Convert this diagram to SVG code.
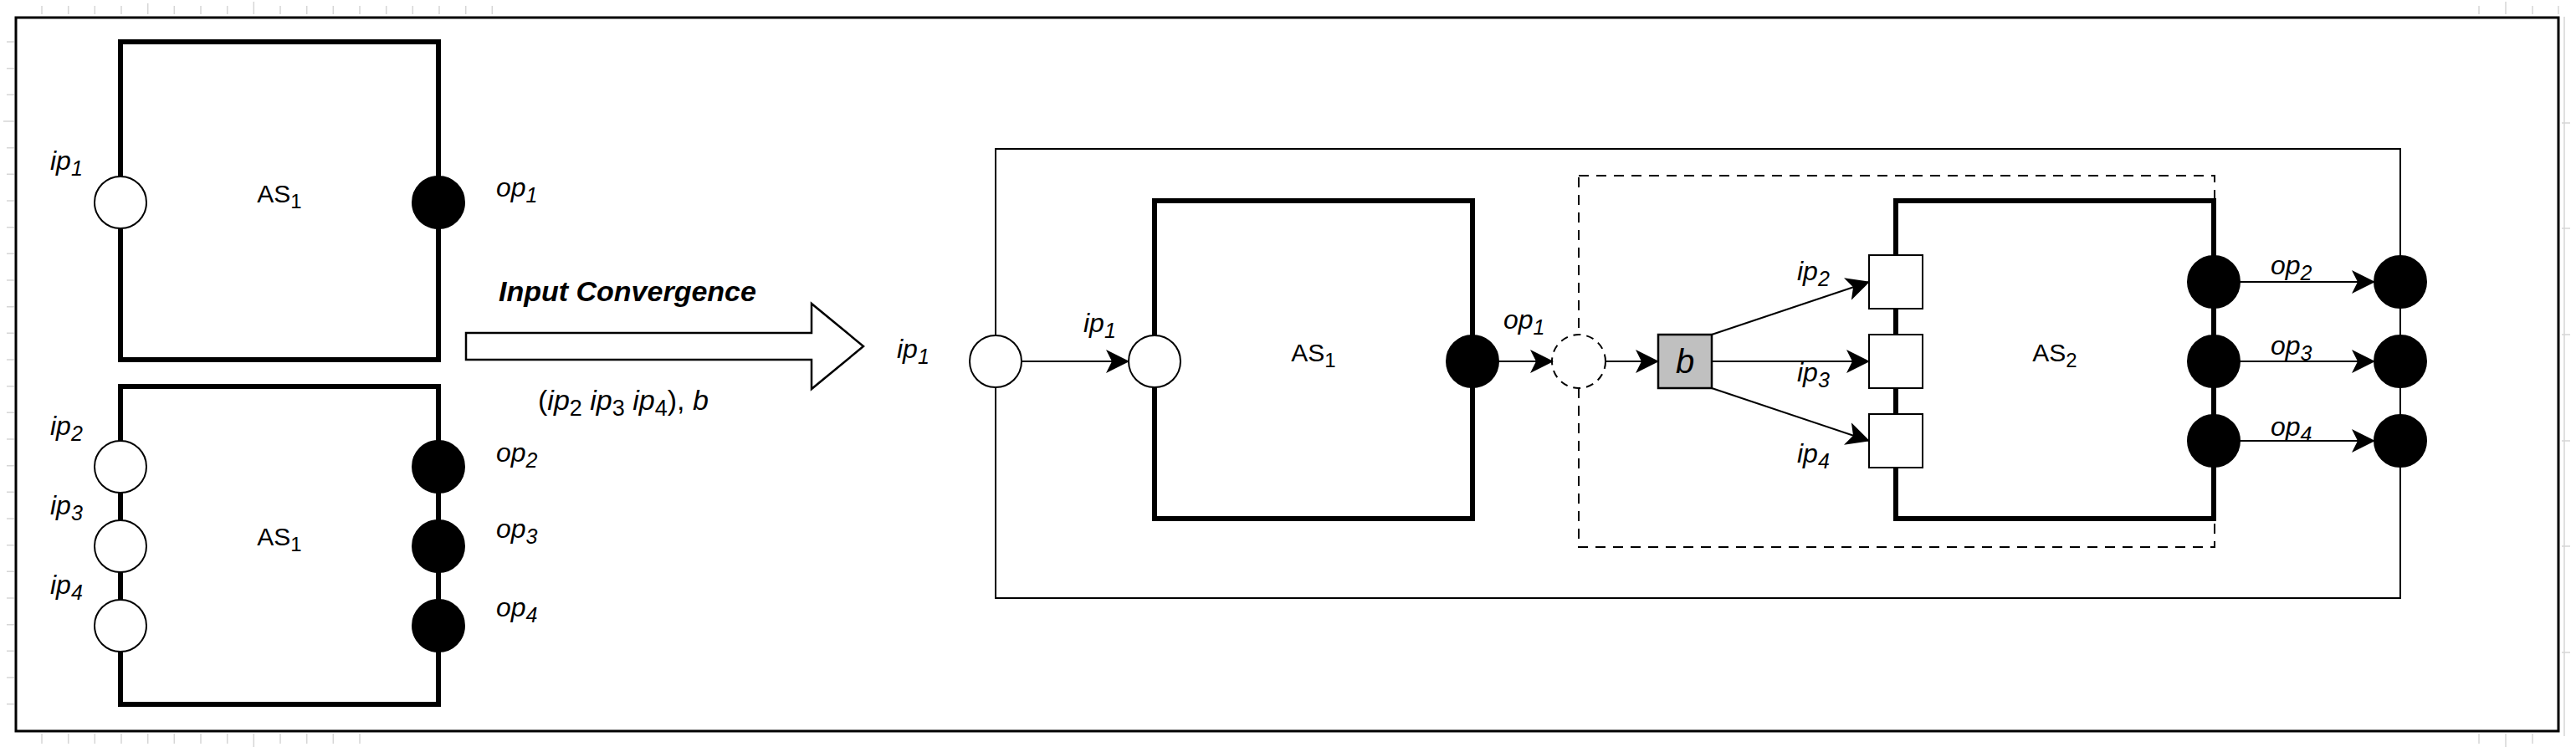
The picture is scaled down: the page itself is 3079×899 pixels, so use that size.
<svg xmlns="http://www.w3.org/2000/svg" width="3079" height="899" viewBox="0 0 3079 899">
<defs>
<style>
.lbl{font-family:"Liberation Sans",Arial,Helvetica,sans-serif;font-size:32px;font-style:italic;fill:#000}
.as{font-family:"Liberation Sans",Arial,Helvetica,sans-serif;font-size:30px;fill:#000}
.box{fill:#fff;stroke:#000;stroke-width:6}
.pin{fill:#fff;stroke:#000;stroke-width:2}
.pout{fill:#000;stroke:#000;stroke-width:2}
.thin{fill:none;stroke:#000;stroke-width:2}
.con{fill:none;stroke:#000;stroke-width:2;marker-end:url(#arr)}
.tick{stroke:#d6d6d6;stroke-width:1.5}
</style>
<marker id="arr" viewBox="0 0 28 28" refX="27" refY="14" markerWidth="28" markerHeight="28" markerUnits="userSpaceOnUse" orient="auto">
<path d="M0,0 L28,14 L0,28 L7,14 Z" fill="#000"/>
</marker>
</defs>
<rect x="0" y="0" width="3079" height="899" fill="#fff"/>
<g id="ruler">
<path class="tick" d="M50,7V17M81.7,7V17M113.3,7V17M145,7V17M176.7,4V17M208.3,7V17M240,7V17M271.7,7V17M303.3,2V17M335,7V17M366.7,7V17M398.3,7V17M430,7V17M461.7,7V17M493.3,7V17M525,7V17M556.7,7V17M588.3,7V17M2963,7V17M2995,2V17M3027,7V17M3058,7V17"/>
<path class="tick" d="M8,50H17M8,81.7H17M8,113.3H17M4,145H17M8,176.7H17M8,208.3H17M8,240H17M8,271.7H17M8,303.3H17M8,335H17M8,366.7H17M8,398.3H17M8,430H17M8,461.7H17M8,493.3H17M8,525H17M8,556.7H17M8,588.3H17M8,620H17M8,651.7H17M8,683.3H17M8,715H17M8,746.7H17M8,778.3H17M8,810H17M8,841.7H17"/>
<path class="tick" d="M50,877V889M81.7,877V889M113.3,877V889M145,877V889M176.7,877V889M208.3,877V889M240,877V889M271.7,877V889M303.3,877V893M335,877V889M366.7,877V889M398.3,877V889M430,877V889M2963,877V889M2995,877V893M3027,877V889"/>
<path class="tick" d="M3065,20V880M3062,147H3072M3062,273H3072M3062,400H3072M3062,527H3072M3062,653H3072M3062,780H3072"/>
</g>
<rect id="frame" x="19" y="21" width="3039" height="853" fill="#fff" stroke="#000" stroke-width="3"/>

<g id="as1-top">
<rect class="box" x="144" y="50" width="380" height="380"/>
<text class="as" x="334" y="242" text-anchor="middle">AS<tspan font-size="24" dy="7">1</tspan></text>
</g>
<g id="as1-top-ip1">
<circle class="pin" cx="144" cy="242" r="31"/>
<text class="lbl" x="60" y="203">ip<tspan font-size="25" dy="7">1</tspan></text>
</g>
<g id="as1-top-op1">
<circle class="pout" cx="524" cy="242" r="31"/>
<text class="lbl" x="593" y="235">op<tspan font-size="25" dy="7">1</tspan></text>
</g>

<g id="as1-bottom">
<rect class="box" x="144" y="462" width="380" height="380"/>
<text class="as" x="334" y="652" text-anchor="middle">AS<tspan font-size="24" dy="7">1</tspan></text>
</g>
<g id="as1-bottom-ip2">
<circle class="pin" cx="144" cy="558" r="31"/>
<text class="lbl" x="60" y="520">ip<tspan font-size="25" dy="7">2</tspan></text>
</g>
<g id="as1-bottom-ip3">
<circle class="pin" cx="144" cy="653" r="31"/>
<text class="lbl" x="60" y="615">ip<tspan font-size="25" dy="7">3</tspan></text>
</g>
<g id="as1-bottom-ip4">
<circle class="pin" cx="144" cy="748" r="31"/>
<text class="lbl" x="60" y="710">ip<tspan font-size="25" dy="7">4</tspan></text>
</g>
<g id="as1-bottom-op2">
<circle class="pout" cx="524" cy="558" r="31"/>
<text class="lbl" x="593" y="552">op<tspan font-size="25" dy="7">2</tspan></text>
</g>
<g id="as1-bottom-op3">
<circle class="pout" cx="524" cy="653" r="31"/>
<text class="lbl" x="593" y="643">op<tspan font-size="25" dy="7">3</tspan></text>
</g>
<g id="as1-bottom-op4">
<circle class="pout" cx="524" cy="748" r="31"/>
<text class="lbl" x="593" y="737">op<tspan font-size="25" dy="7">4</tspan></text>
</g>

<g id="convergence-arrow">
<polygon points="557,398 970,398 970,363 1032,414 970,465 970,430 557,430" fill="#fff" stroke="#000" stroke-width="2.5"/>
<text x="596" y="360" font-family="'Liberation Sans',Arial,Helvetica,sans-serif" font-size="34" font-weight="bold" font-style="italic">Input Convergence</text>
<text x="643" y="490" font-family="'Liberation Sans',Arial,Helvetica,sans-serif" font-size="34">(<tspan font-style="italic">ip</tspan><tspan font-size="27" dy="7">2</tspan><tspan dy="-7"> </tspan><tspan font-style="italic">ip</tspan><tspan font-size="27" dy="7">3</tspan><tspan dy="-7"> </tspan><tspan font-style="italic">ip</tspan><tspan font-size="27" dy="7">4</tspan><tspan dy="-7">), </tspan><tspan font-style="italic">b</tspan></text>
</g>

<g id="composite">
<rect class="thin" x="1190" y="178" width="1679" height="537" fill="#fff"/>
</g>
<g id="dashed-group">
<rect x="1887" y="210" width="760" height="444" fill="none" stroke="#000" stroke-width="2" stroke-dasharray="12 9"/>
</g>
<g id="composite-ip1">
<circle class="pin" cx="1190" cy="432" r="31"/>
<text class="lbl" x="1072" y="428">ip<tspan font-size="25" dy="7">1</tspan></text>
</g>

<g id="as1-inner">
<rect class="box" x="1380" y="240" width="380" height="380"/>
<text class="as" x="1570" y="432" text-anchor="middle">AS<tspan font-size="24" dy="7">1</tspan></text>
</g>
<g id="as1-inner-ip1">
<circle class="pin" cx="1380" cy="432" r="31"/>
</g>
<g id="as1-inner-op1">
<circle class="pout" cx="1760" cy="432" r="31"/>
</g>
<g id="dashed-port">
<circle cx="1887" cy="432" r="32" fill="#fff" stroke="#000" stroke-width="2" stroke-dasharray="9 7"/>
</g>
<g id="b-node">
<rect x="1982" y="400" width="64" height="64" fill="#c0c0c0" stroke="#000" stroke-width="2.5"/>
<text x="2014" y="446" text-anchor="middle" font-family="'Liberation Sans',Arial,Helvetica,sans-serif" font-size="40" font-style="italic">b</text>
</g>

<g id="as2">
<rect class="box" x="2266" y="240" width="380" height="380"/>
<text class="as" x="2456" y="432" text-anchor="middle">AS<tspan font-size="24" dy="7">2</tspan></text>
</g>
<g id="as2-ip2"><rect class="pin" x="2234" y="305" width="64" height="64"/></g>
<g id="as2-ip3"><rect class="pin" x="2234" y="400" width="64" height="64"/></g>
<g id="as2-ip4"><rect class="pin" x="2234" y="495" width="64" height="64"/></g>
<g id="as2-op2"><circle class="pout" cx="2646" cy="337" r="31"/></g>
<g id="as2-op3"><circle class="pout" cx="2646" cy="432" r="31"/></g>
<g id="as2-op4"><circle class="pout" cx="2646" cy="527" r="31"/></g>
<g id="composite-op2"><circle class="pout" cx="2869" cy="337" r="31"/></g>
<g id="composite-op3"><circle class="pout" cx="2869" cy="432" r="31"/></g>
<g id="composite-op4"><circle class="pout" cx="2869" cy="527" r="31"/></g>

<g id="connectors">
<line class="con" x1="1221" y1="432" x2="1349" y2="432"/>
<line class="con" x1="1791" y1="432" x2="1856" y2="432"/>
<line class="con" x1="1919" y1="432" x2="1982" y2="432"/>
<line class="con" x1="2046" y1="400" x2="2234" y2="337"/>
<line class="con" x1="2046" y1="432" x2="2234" y2="432"/>
<line class="con" x1="2046" y1="464" x2="2234" y2="527"/>
<line class="con" x1="2677" y1="337" x2="2838" y2="337"/>
<line class="con" x1="2677" y1="432" x2="2838" y2="432"/>
<line class="con" x1="2677" y1="527" x2="2838" y2="527"/>
<text class="lbl" x="1295" y="397">ip<tspan font-size="25" dy="7">1</tspan></text>
<text class="lbl" x="1797" y="393">op<tspan font-size="25" dy="7">1</tspan></text>
<text class="lbl" x="2148" y="335">ip<tspan font-size="25" dy="7">2</tspan></text>
<text class="lbl" x="2148" y="456">ip<tspan font-size="25" dy="7">3</tspan></text>
<text class="lbl" x="2148" y="553">ip<tspan font-size="25" dy="7">4</tspan></text>
<text class="lbl" x="2714" y="328">op<tspan font-size="25" dy="7">2</tspan></text>
<text class="lbl" x="2714" y="424">op<tspan font-size="25" dy="7">3</tspan></text>
<text class="lbl" x="2714" y="521">op<tspan font-size="25" dy="7">4</tspan></text>
</g>
</svg>
